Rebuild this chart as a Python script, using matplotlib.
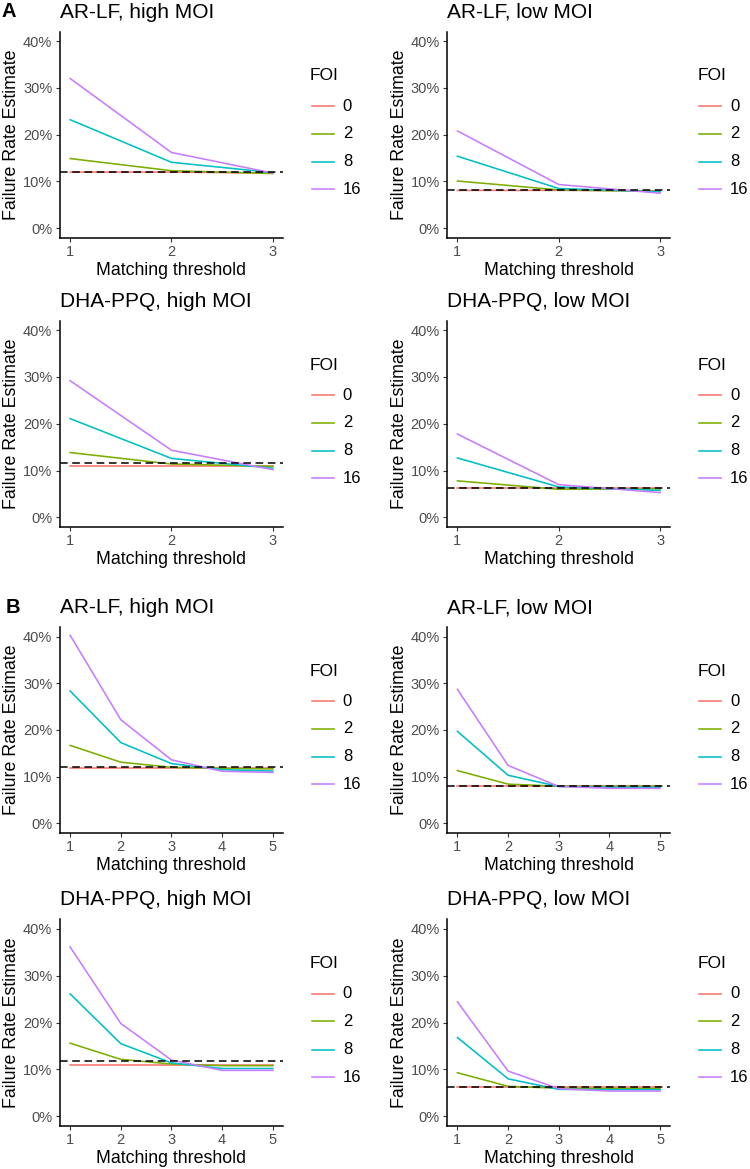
import matplotlib
matplotlib.use("Agg")
import matplotlib.pyplot as plt
from matplotlib.ticker import FuncFormatter
from matplotlib.lines import Line2D

plt.rcParams['font.family'] = ['Liberation Sans', 'DejaVu Sans']

# data (failure rate estimate, %)
thresholds_a = [1, 2, 3]
thresholds_b = [1, 2, 3, 4, 5]
foi_levels = ["0", "2", "8", "16"]
foi_colors = ["#F8766D", "#7CAE00", "#00BFC4", "#C77CFF"]
panel_titles = ["AR-LF, high MOI", "AR-LF, low MOI",
                "DHA-PPQ, high MOI", "DHA-PPQ, low MOI"]

# rows: FOI 0, 2, 8, 16
a_arlf_high = [[12.0, 12.0, 11.8],
               [14.9, 12.3, 11.7],
               [23.2, 14.1, 11.9],
               [32.0, 16.2, 11.8]]
a_arlf_low = [[8.1, 8.1, 8.0],
              [10.1, 8.2, 7.9],
              [15.4, 8.5, 7.8],
              [20.8, 9.35, 7.5]]
a_dha_high = [[10.9, 10.9, 10.9],
              [13.85, 11.4, 10.9],
              [21.1, 12.6, 10.5],
              [29.2, 14.35, 10.2]]
a_dha_low = [[6.2, 6.2, 6.2],
             [7.8, 6.0, 6.1],
             [12.7, 6.5, 5.75],
             [17.8, 7.0, 5.3]]
a_reference = [12.1, 8.1, 11.7, 6.3]

b_arlf_high = [[11.9, 11.9, 11.9, 11.9, 11.9],
               [16.7, 13.1, 12.0, 11.8, 11.65],
               [28.35, 17.3, 12.8, 11.5, 11.2],
               [40.3, 22.2, 13.6, 11.15, 10.9]]
b_arlf_low = [[7.95, 7.95, 7.95, 7.95, 7.95],
              [11.3, 8.4, 7.95, 7.95, 7.95],
              [19.7, 10.3, 7.9, 7.75, 7.75],
              [28.7, 12.4, 7.9, 7.5, 7.5]]
b_dha_high = [[11.0, 11.0, 11.0, 11.0, 11.0],
              [15.6, 12.15, 11.15, 10.8, 10.8],
              [26.1, 15.5, 11.4, 10.2, 10.2],
              [36.1, 19.8, 12.0, 9.8, 9.8]]
b_dha_low = [[6.2, 6.2, 6.2, 6.2, 6.2],
             [9.3, 6.4, 6.0, 5.95, 5.95],
             [16.8, 8.0, 5.75, 5.7, 5.7],
             [24.4, 9.65, 5.9, 5.4, 5.4]]
b_reference = [12.1, 8.1, 11.7, 6.3]


def _draw_legend(ax):
    ax.text(1.121, 0.785, "FOI", transform=ax.transAxes, fontsize=12.5,
            ha='left', va='center', color='black')
    row_y = [0.639, 0.505, 0.369, 0.235]
    for i in range(len(foi_levels)):
        ax.add_line(Line2D([1.130, 1.229], [row_y[i], row_y[i]],
                           transform=ax.transAxes, color=foi_colors[i],
                           lw=1.15, clip_on=False))
        ax.text(1.269, row_y[i], foi_levels[i], transform=ax.transAxes,
                fontsize=12, ha='left', va='center', color='black')


def _plot_panel(ax, title, xs, series, ref):
    for i in range(len(series)):
        ax.plot(xs, series[i], color=foi_colors[i], lw=1.15)
    ax.axhline(ref, color='black', lw=1.1, dashes=(5, 3))
    ax.set_xlim(xs[0] - 0.05 * (xs[-1] - xs[0]), xs[-1] + 0.05 * (xs[-1] - xs[0]))
    ax.set_ylim(-2, 42)
    ax.set_xticks(xs)
    ax.set_yticks([0, 10, 20, 30, 40])
    ax.yaxis.set_major_formatter(FuncFormatter(lambda v, p: "%d%%" % v))
    for side in ["top", "right"]:
        ax.spines[side].set_visible(False)
    for side in ["left", "bottom"]:
        ax.spines[side].set_linewidth(1.1)
        ax.spines[side].set_color('black')
    ax.tick_params(direction='out', length=3, width=0.8, color='#333333',
                   labelcolor='#4D4D4D', labelsize=10.5, pad=2.5)
    ax.set_xlabel("Matching threshold", fontsize=12.8, labelpad=2)
    ax.set_ylabel("Failure Rate Estimate", fontsize=12.8, labelpad=2)
    ax.set_title(title, loc='left', fontsize=15, pad=10)
    _draw_legend(ax)


fig = plt.figure(figsize=(7.5, 11.69), dpi=100)

left_x = [0.08, 0.5964]
width = 0.2972
rows = [(0.7967, 0.1762), (0.5494, 0.1762), (0.2877, 0.1757), (0.0370, 0.1766)]

panel_data = [
    (thresholds_a, a_arlf_high, a_reference[0]),
    (thresholds_a, a_arlf_low, a_reference[1]),
    (thresholds_a, a_dha_high, a_reference[2]),
    (thresholds_a, a_dha_low, a_reference[3]),
    (thresholds_b, b_arlf_high, b_reference[0]),
    (thresholds_b, b_arlf_low, b_reference[1]),
    (thresholds_b, b_dha_high, b_reference[2]),
    (thresholds_b, b_dha_low, b_reference[3]),
]

for k in range(8):
    r = k // 2
    c = k % 2
    ax = fig.add_axes([left_x[c], rows[r][0], width, rows[r][1]])
    xs, series, ref = panel_data[k]
    _plot_panel(ax, panel_titles[k % 4], xs, series, ref)

fig.text(0.002, 1 - 16.7 / 1169, "A", fontsize=14.5, fontweight='bold',
         ha='left', va='baseline')
fig.text(0.008, 1 - 613.3 / 1169, "B", fontsize=14.5, fontweight='bold',
         ha='left', va='baseline')

plt.savefig("out.png", dpi=100)
plt.close()
